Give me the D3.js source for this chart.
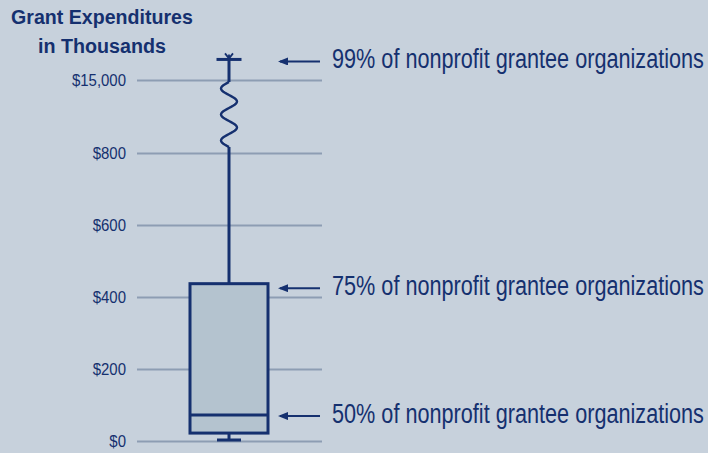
<!DOCTYPE html>
<html>
<head>
<meta charset="utf-8">
<script src="https://cdn.jsdelivr.net/npm/d3@7"></script>
<style>
  body { margin: 0; background: #c7d1dc; }
  svg { display: block; }
  .narrow { font-family: "Liberation Sans Narrow", "Arial Narrow", "Liberation Sans", Arial, sans-serif; }
</style>
</head>
<body>
<div id="chart"></div>
<script>
// tick values on the broken axis
const tickValues = [0, 200, 400, 600, 800, 15000];
const tickLabels = ["$0", "$200", "$400", "$600", "$800", "$15,000"];

// box plot summary (thousands of dollars)
const boxStats = ["min", "q1", "median", "q3", "p99"];
const boxValues = [0, 22, 72, 437, 19000];

// annotations pointing at box parts
const noteKeys = ["p99", "q3", "median"];
const noteLabels = [
    "99% of nonprofit grantee organizations",
    "75% of nonprofit grantee organizations",
    "50% of nonprofit grantee organizations"
];

const stats = {};
boxStats.forEach((k, i) => stats[k] = boxValues[i]);

const W = 708, H = 453;
const navy = "#15306f";

const svg = d3.select("#chart").append("svg")
    .attr("width", W)
    .attr("height", H);

svg.append("rect").attr("width", W).attr("height", H).attr("fill", "#c7d1dc");

// piecewise scale: linear up to $800, then compressed above the break
let y = d3.scaleLinear()
    .domain([0, 800, 15000])
    .range([441, 153, 80]);

// squeeze a text horizontally so it fills a given width
function squeeze(sel, x, yPos, width) {
    sel.each(function () {
        let w = this.getComputedTextLength();
        let k = Math.min(1, width / w);
        d3.select(this).attr("transform", "translate(" + x + "," + yPos + ") scale(" + k + ",1)");
    });
}

// title
let titleLines = [["Grant Expenditures", 24, 182], ["in Thousands", 53, 128]];
titleLines.forEach(t => {
    svg.append("text")
        .attr("class", "narrow")
        .attr("text-anchor", "middle")
        .attr("fill", navy)
        .attr("font-weight", "bold")
        .attr("font-size", 21)
        .text(t[0])
        .call(squeeze, 102, t[1], t[2]);
});

// axis + grid lines
let gridLeft = 137, gridRight = 322;
let yAxis = d3.axisLeft(y)
    .tickValues(tickValues)
    .tickFormat((d, i) => tickLabels[i])
    .tickSizeInner(-(gridRight - gridLeft))
    .tickSizeOuter(0)
    .tickPadding(11);

let axisG = svg.append("g")
    .attr("transform", "translate(" + gridLeft + ",0)")
    .call(yAxis);
axisG.select(".domain").remove();
axisG.selectAll(".tick line")
    .attr("stroke", "#8d9db3")
    .attr("stroke-width", 2);
// labels are a condensed face in the original, so narrow them a bit
axisG.selectAll(".tick text")
    .attr("class", "narrow")
    .attr("fill", navy)
    .attr("font-size", 17)
    .attr("dy", "0.35em")
    .attr("x", 0)
    .attr("transform", "translate(-11,0) scale(0.88,1)");

// box plot
let cx = 229, boxW = 78, capW = 24;
let g = svg.append("g")
    .attr("stroke", navy)
    .attr("fill", "none");

// lower whisker
g.append("line")
    .attr("x1", cx).attr("x2", cx)
    .attr("y1", y(stats.q1)).attr("y2", y(stats.min) - 1)
    .attr("stroke-width", 3);
g.append("line")
    .attr("x1", cx - capW / 2).attr("x2", cx + capW / 2)
    .attr("y1", y(stats.min) - 1).attr("y2", y(stats.min) - 1)
    .attr("stroke-width", 3);

// upper whisker, straight part up to the break
g.append("line")
    .attr("x1", cx).attr("x2", cx)
    .attr("y1", y(stats.q3)).attr("y2", y(800) - 6)
    .attr("stroke-width", 3);

// squiggle showing the axis break
let waveTop = y(15000) + 2, waveBot = y(800) - 6;
let wavePts = d3.range(0, 61).map(i => {
    let t = i / 60;
    let yy = waveTop + t * (waveBot - waveTop);
    return [cx - 8 * Math.sin(t * 5 * Math.PI), yy];
});
g.append("path")
    .attr("d", d3.line()(wavePts))
    .attr("stroke-width", 2.4);

// straight part above the break, to 99th percentile
g.append("line")
    .attr("x1", cx).attr("x2", cx)
    .attr("y1", waveTop).attr("y2", y(stats.p99))
    .attr("stroke-width", 3);
g.append("line")
    .attr("x1", cx - 12.5).attr("x2", cx + 12.5)
    .attr("y1", y(stats.p99)).attr("y2", y(stats.p99))
    .attr("stroke-width", 3);
// little star mark on top of the cap
let sy = y(stats.p99);
g.append("path")
    .attr("d", `M${cx - 4},${sy - 6}L${cx},${sy - 1}L${cx + 4},${sy - 6}M${cx},${sy - 1}V${sy - 5}`)
    .attr("stroke-width", 1.8);

// box
g.append("rect")
    .attr("x", cx - boxW / 2)
    .attr("y", y(stats.q3))
    .attr("width", boxW)
    .attr("height", y(stats.q1) - y(stats.q3))
    .attr("fill", "#b4c3cf")
    .attr("stroke-width", 3);
g.append("line")
    .attr("x1", cx - boxW / 2).attr("x2", cx + boxW / 2)
    .attr("y1", y(stats.median)).attr("y2", y(stats.median))
    .attr("stroke-width", 3);

// annotations
let defs = svg.append("defs");
defs.append("marker")
    .attr("id", "head")
    .attr("viewBox", "0 0 10 8")
    .attr("refX", 8).attr("refY", 4)
    .attr("markerWidth", 5).attr("markerHeight", 4)
    .attr("orient", "auto")
    .attr("markerUnits", "strokeWidth")
    .append("path")
    .attr("d", "M0,0L10,4L0,8Z")
    .attr("fill", navy);

// arrows sit a few pixels off the value line, as in the original
let arrowShift = {p99: 2, q3: 4.5, median: 1};

let notes = svg.selectAll("g.note")
    .data(noteKeys)
    .enter()
    .append("g")
    .attr("class", "note")
    .attr("transform", d => "translate(0," + (y(stats[d]) + arrowShift[d]) + ")");

notes.append("line")
    .attr("x1", 320).attr("x2", 280)
    .attr("y1", 0).attr("y2", 0)
    .attr("stroke", navy)
    .attr("stroke-width", 2)
    .attr("marker-end", "url(#head)");

notes.append("text")
    .attr("class", "narrow")
    .attr("fill", navy)
    .attr("font-size", 27)
    .text((d, i) => noteLabels[i])
    .call(squeeze, 332, 6.5, 372);
</script>
</body>
</html>
